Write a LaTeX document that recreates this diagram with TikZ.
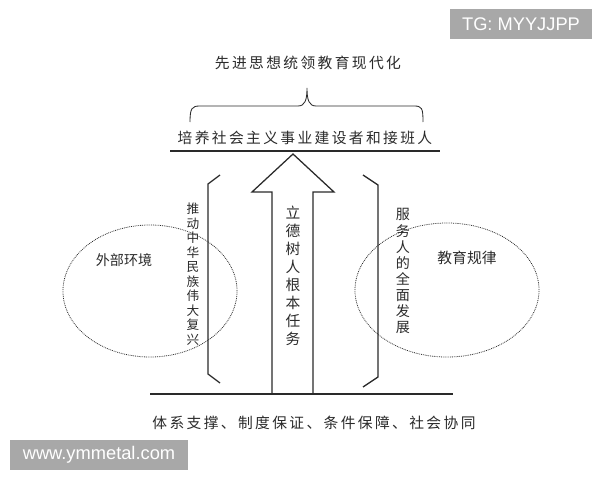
\documentclass[tikz,border=0pt]{standalone}
\usepackage{fontspec}
\usepackage{tikz}
\usetikzlibrary{shapes}
\newfontfamily\cjk{Noto Sans CJK SC}
\newfontfamily\cjksp[LetterSpace=16]{Noto Sans CJK SC}
\newfontfamily\wmfont{Liberation Sans}
\definecolor{ink}{HTML}{2A2A2A}
\definecolor{wmgray}{HTML}{A8A8A8}
\tikzstyle{line} = [draw=ink,line width=0.9pt]
\tikzstyle{htext} = [text=ink,inner sep=0pt,font=\fontsize{10.5}{12}\selectfont\cjksp]
\tikzstyle{vtext} = [text=ink,inner sep=0pt,align=center]
\tikzstyle{circ} = [draw=ink,ellipse,line width=0.55pt,dash pattern=on 0.6pt off 0.7pt]
\tikzstyle{wmark} = [fill=wmgray,text=white,inner sep=0pt,font=\fontsize{13}{15}\selectfont\wmfont]

\begin{document}
\begin{tikzpicture}[x=0.025cm,y=-0.025cm]
                        \useasboundingbox (0,0) rectangle (600,480);
                        % watermarks
                        \node[wmark,minimum width=3.55cm,minimum height=0.725cm] (tg) at (521,24) {TG: MYYJJPP};
                        \node[wmark,minimum width=4.45cm,minimum height=0.725cm] (web) at (99,455) {www.ymmetal.com};
                        % top
                        \node[htext] (lead) at (308,63) {先进思想统领教育现代化};
                        \draw[draw=ink,line width=0.6pt] (190,122) .. controls (190,108) and (192,106) .. (200,106) -- (298,106)
                            .. controls (305,106) and (307,100) .. (307,88) .. controls (307,100) and (309,106) .. (316,106)
                            -- (414,106) .. controls (422,106) and (423,108) .. (423,122);
                        \node[htext] (goal) at (305,138) {培养社会主义事业建设者和接班人};
                        \coordinate (topl) at (170,151);
                        \coordinate (topr) at (440,151);
                        \draw[line] (topl) -- (topr);
                        % central arrow
                        \draw[line] (272,394) -- (272,192) -- (252,192) -- (293,154) -- (334,192) -- (313,192) -- (313,394);
                        \node[vtext,font=\fontsize{10.5}{12.8}\selectfont\cjk] (task) at (293,276) {立\\德\\树\\人\\根\\本\\任\\务};
                        % brackets
                        \draw[line] (220,175) -- (208,184) -- (208,374) -- (220,383);
                        \draw[line] (363,175) -- (378,185) -- (378,377) -- (363,387);
                        \node[vtext,font=\fontsize{9}{10.3}\selectfont\cjk] (revive) at (193,274) {推\\动\\中\\华\\民\\族\\伟\\大\\复\\兴};
                        \node[vtext,font=\fontsize{10}{11.4}\selectfont\cjk] (serve) at (403,271) {服\\务\\人\\的\\全\\面\\发\\展};
                        % circles
                        \node[circ,minimum width=4.35cm,minimum height=3.3cm] (env) at (150,291) {};
                        \node[circ,minimum width=4.6cm,minimum height=3.35cm] (law) at (447,290) {};
                        \node[text=ink,font=\fontsize{10}{12}\selectfont\cjk] (envtxt) at (124,260) {外部环境};
                        \node[text=ink,font=\fontsize{10.5}{12}\selectfont\cjk] (lawtxt) at (467,258) {教育规律};
                        % bottom
                        \coordinate (botl) at (150,394);
                        \coordinate (botr) at (453,394);
                        \draw[line] (botl) -- (botr);
                        \node[htext] (base) at (314,423) {体系支撑、制度保证、条件保障、社会协同};
                    \end{tikzpicture}
\end{document}
